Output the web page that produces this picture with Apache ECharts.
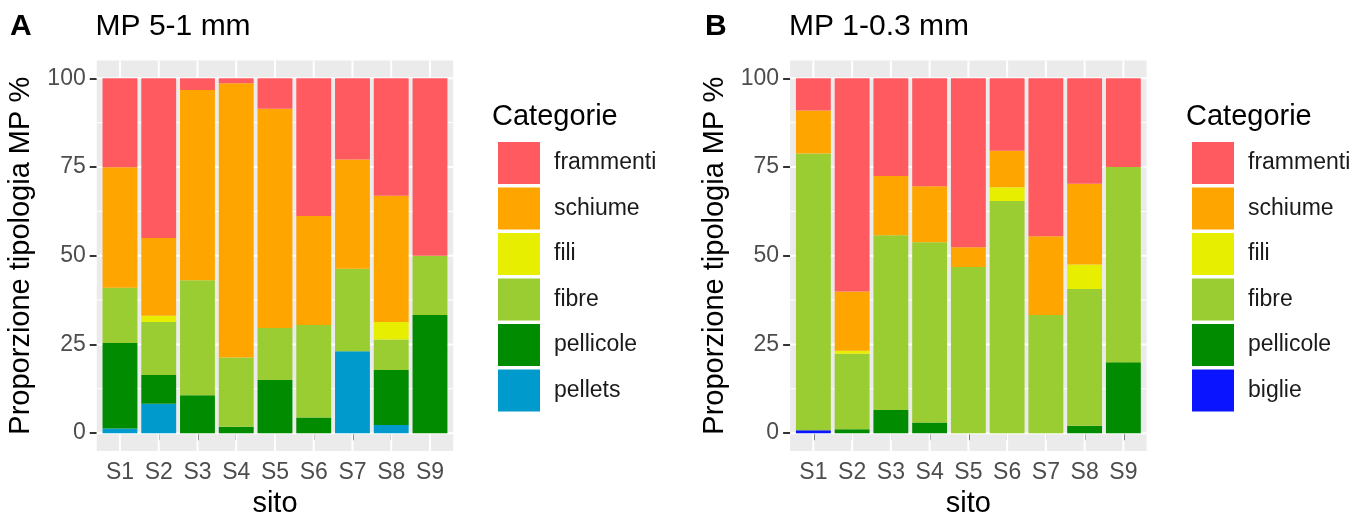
<!DOCTYPE html>
<html>
<head>
<meta charset="utf-8">
<script src="https://cdn.jsdelivr.net/npm/echarts@6/dist/echarts.min.js"></script>
<style>
  html, body { margin: 0; padding: 0; background: #ffffff; }
  #chart { width: 1366px; height: 523px; }
</style>
</head>
<body>
<div id="chart"></div>
<script>
// Sampling sites (x categories) and y tick values
const sites = ['S1', 'S2', 'S3', 'S4', 'S5', 'S6', 'S7', 'S8', 'S9'];
const yTicks = [0, 25, 50, 75, 100];
const yMinorTicks = [12.5, 37.5, 62.5, 87.5];

// Panel A: MP 5-1 mm, share of each category per site (%)
const frammentiA = [25.1, 45.0, 3.3, 1.4, 8.6, 38.8, 22.9, 33.1, 50.0];
const schiumeA   = [33.9, 21.9, 53.6, 77.3, 61.8, 30.7, 30.8, 35.6, 0];
const filiA      = [0, 1.8, 0, 0, 0, 0, 0, 4.9, 0];
const fibreA     = [15.6, 14.9, 32.4, 19.5, 14.6, 26.1, 23.2, 8.6, 16.7];
const pellicoleA = [24.1, 8.1, 10.7, 1.8, 15.0, 4.4, 0, 15.5, 33.3];
const pelletsA   = [1.3, 8.3, 0, 0, 0, 0, 23.1, 2.3, 0];

// Panel B: MP 1-0.3 mm, share of each category per site (%)
const frammentiB = [9.1, 60.1, 27.5, 30.4, 47.6, 20.4, 44.5, 29.7, 25.0];
const schiumeB   = [12.1, 16.7, 16.7, 15.8, 5.6, 10.3, 22.2, 22.8, 0];
const filiB      = [0, 0.8, 0, 0, 0, 3.9, 0, 6.9, 0];
const fibreB     = [78.0, 21.3, 49.3, 50.8, 46.8, 65.4, 33.3, 38.5, 55.0];
const pellicoleB = [0, 1.1, 6.5, 3.0, 0, 0, 0, 2.1, 20.0];
const biglieB    = [0.8, 0, 0, 0, 0, 0, 0, 0, 0];

const colors = {
  frammenti: '#FF5A60',
  schiume: '#FFA500',
  fili: '#E8EE00',
  fibre: '#9ACD32',
  pellicole: '#008B00',
  pellets: '#009ACD',
  biglie: '#0A14FF'
};

const FONT = '"Liberation Sans", Arial, Helvetica, sans-serif';
const BAND = 38.75;          // width of one category slot in px
const PLOT_TOP = 78.3;       // pixel of y = 100
const PLOT_BOTTOM = 437.3;   // pixel of y = 0
const EXPAND_Y = 0.05 * (PLOT_BOTTOM - PLOT_TOP);

// bottom-to-top stacking order of each panel
const panels = [
  {
    tag: 'A', title: 'MP 5-1 mm', tagLeft: 10, gridLeft: 100.6, legendLeft: 498,
    layers: [
      ['pellets', pelletsA], ['pellicole', pellicoleA], ['fibre', fibreA],
      ['fili', filiA], ['schiume', schiumeA], ['frammenti', frammentiA]
    ]
  },
  {
    tag: 'B', title: 'MP 1-0.3 mm', tagLeft: 705, gridLeft: 794, legendLeft: 1192,
    layers: [
      ['biglie', biglieB], ['pellicole', pellicoleB], ['fibre', fibreB],
      ['fili', filiB], ['schiume', schiumeB], ['frammenti', frammentiB]
    ]
  }
];

const grids = [], xAxes = [], yAxes = [], series = [], legends = [], titles = [];

panels.forEach((p, i) => {
  grids.push({
    left: p.gridLeft,
    width: BAND * sites.length,
    top: PLOT_TOP,
    height: PLOT_BOTTOM - PLOT_TOP,
    containLabel: false
  });
  xAxes.push({
    type: 'category',
    gridIndex: i,
    data: sites,
    offset: EXPAND_Y,
    name: 'sito',
    nameLocation: 'middle',
    nameGap: 34,
    nameTextStyle: { fontFamily: FONT, fontSize: 29, color: '#000000' },
    axisLine: { show: false },
    axisTick: { show: true, alignWithLabel: true, length: 7, lineStyle: { color: '#333333', width: 2 } },
    axisLabel: { fontFamily: FONT, fontSize: 23, color: '#4D4D4D', margin: 10 },
    splitLine: { show: false }
  });
  yAxes.push({
    type: 'value',
    gridIndex: i,
    min: 0,
    max: 100,
    interval: 25,
    offset: BAND * 0.1,
    name: 'Proporzione tipologia MP %',
    nameLocation: 'middle',
    nameRotate: 90,
    nameGap: 61,
    nameTextStyle: { fontFamily: FONT, fontSize: 29, color: '#000000' },
    axisLine: { show: false },
    axisTick: { show: true, length: 7, lineStyle: { color: '#333333', width: 2 } },
    axisLabel: { fontFamily: FONT, fontSize: 23, color: '#4D4D4D', margin: 11 },
    splitLine: { show: false }
  });
  p.layers.forEach(([name, values]) => {
    series.push({
      type: 'bar',
      name: name,
      xAxisIndex: i,
      yAxisIndex: i,
      stack: 'panel' + p.tag,
      barWidth: '90%',
      z: 5,
      data: values,
      itemStyle: { color: colors[name] },
      emphasis: { disabled: true }
    });
  });
  legends.push({
    data: p.layers.map(l => l[0]).reverse(),
    orient: 'vertical',
    left: p.legendLeft,
    top: 142,
    padding: 0,
    icon: 'rect',
    itemWidth: 42,
    itemHeight: 42,
    itemGap: 3.5,
    selectedMode: false,
    textStyle: { fontFamily: FONT, fontSize: 23, color: '#1A1A1A', padding: [0, 0, 0, 9] }
  });
  titles.push({
    text: p.tag, left: p.tagLeft, top: 12, padding: 0,
    textStyle: { fontFamily: FONT, fontSize: 30, fontWeight: 'bold', color: '#000000' }
  });
  titles.push({
    text: p.title, left: p.gridLeft - 5, top: 12, padding: 0,
    textStyle: { fontFamily: FONT, fontSize: 30, fontWeight: 'normal', color: '#000000' }
  });
  titles.push({
    text: 'Categorie', left: p.legendLeft - 6, top: 102, padding: 0,
    textStyle: { fontFamily: FONT, fontSize: 29, fontWeight: 'normal', color: '#000000' }
  });
});

const chart = echarts.init(document.getElementById('chart'), null, { renderer: 'canvas' });
chart.setOption({
  animation: false,
  backgroundColor: '#ffffff',
  title: titles,
  grid: grids,
  xAxis: xAxes,
  yAxis: yAxes,
  legend: legends,
  series: series
});

// Panel background and white grid lines, placed through the axes' own scales
const graphics = [];
panels.forEach((p, i) => {
  const cx = sites.map(s => chart.convertToPixel({ xAxisIndex: i }, s));
  const bw = cx[1] - cx[0];
  const left = cx[0] - 0.6 * bw;
  const right = cx[cx.length - 1] + 0.6 * bw;
  const top = chart.convertToPixel({ yAxisIndex: i }, 105);
  const bottom = chart.convertToPixel({ yAxisIndex: i }, -5);
  graphics.push({
    type: 'rect', z: 0, silent: true,
    shape: { x: left, y: top, width: right - left, height: bottom - top },
    style: { fill: '#EBEBEB' }
  });
  yMinorTicks.forEach(v => {
    const y = chart.convertToPixel({ yAxisIndex: i }, v);
    graphics.push({
      type: 'line', z: 1, silent: true,
      shape: { x1: left, y1: y, x2: right, y2: y },
      style: { stroke: '#FFFFFF', lineWidth: 1 }
    });
  });
  yTicks.forEach(v => {
    const y = chart.convertToPixel({ yAxisIndex: i }, v);
    graphics.push({
      type: 'line', z: 1, silent: true,
      shape: { x1: left, y1: y, x2: right, y2: y },
      style: { stroke: '#FFFFFF', lineWidth: 2 }
    });
  });
  cx.forEach(x => {
    graphics.push({
      type: 'line', z: 1, silent: true,
      shape: { x1: x, y1: top, x2: x, y2: bottom },
      style: { stroke: '#FFFFFF', lineWidth: 2 }
    });
  });
});
chart.setOption({ graphic: { elements: graphics } });
</script>
</body>
</html>
